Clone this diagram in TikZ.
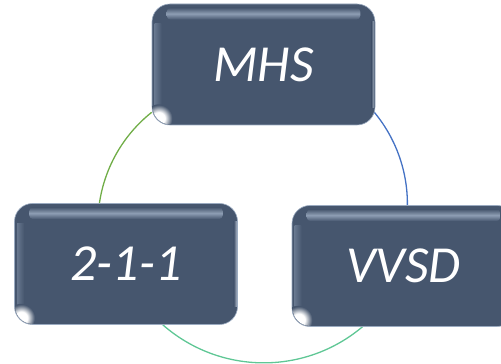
\documentclass[tikz,border=0pt]{standalone}
\usepackage{fontspec}
\newfontfamily\boxfont{Carlito}
\usetikzlibrary{calc,backgrounds}
\definecolor{boxc}{HTML}{46566E}
\definecolor{boxhl}{HTML}{8E9EB4}
\definecolor{boxedge}{HTML}{9AAAC0}
\definecolor{lgreen}{HTML}{70AD47}
\definecolor{lblue}{HTML}{4472C4}
\definecolor{lteal}{HTML}{5FC795}
\tikzset{
  box/.style={draw=boxedge, line width=0.6pt, fill=boxc, rounded corners=18pt,
    minimum width=223pt, minimum height=121pt, inner sep=0pt,
    text=white, font=\boxfont\itshape\fontsize{52}{60}\selectfont},
  arcline/.style={line width=1.3pt},
}
\pgfdeclareradialshading{glint}{\pgfpoint{0pt}{0pt}}{%
  color(0pt)=(white); color(11pt)=(white); color(24pt)=(boxc); color(30pt)=(boxc)}
\begin{document}
\begin{tikzpicture}[x=1pt,y=1pt]
\useasboundingbox (0,0) rectangle (501,364);
\clip (0,0) rectangle (501,364);
\node[box] (mhs) at (263.5,299.5) {MHS};
\node[box] (two) at (126,100) {2-1-1};
\node[box] (vvsd) at (403.5,98) {VVSD};
\foreach \n in {mhs,two,vvsd}{
  \begin{scope}
    \clip[rounded corners=18pt] ($(\n.south west)+(0.8,0.8)$) rectangle ($(\n.north east)+(-0.8,-0.8)$);
    \shade[top color=boxc, bottom color=boxc, middle color=boxhl, rounded corners=4pt]
      ($(\n.north west)+(15,-4)$) rectangle ($(\n.north east)+(-15,-16)$);
    \shade[left color=boxc, right color=boxhl!70!white]
      ($(\n.north east)+(-4,-18)$) rectangle ($(\n.south east)+(-0.8,18)$);
    \shade[left color=boxhl!45!boxc, right color=boxc]
      ($(\n.north west)+(3,-20)$) rectangle ($(\n.south west)+(10,20)$);
    \shade[shading=glint]
      ($(\n.south west)+(7,7)$) circle[radius=14];
  \end{scope}
}
\begin{scope}[on background layer]
\draw[arcline, lgreen] ($(mhs.south west)+(0,13)$) arc[start angle=128.5, end angle=181.3, radius=142.5];
\draw[arcline, lblue] ($(mhs.south east)+(-1,13)$) arc[start angle=39.7, end angle=-1, radius=143.5];
\draw[arcline, lteal] ($(two.south east)+(-75,0)$) arc[start angle=228.7, end angle=310.3, radius=153];
\end{scope}
\end{tikzpicture}
\end{document}
